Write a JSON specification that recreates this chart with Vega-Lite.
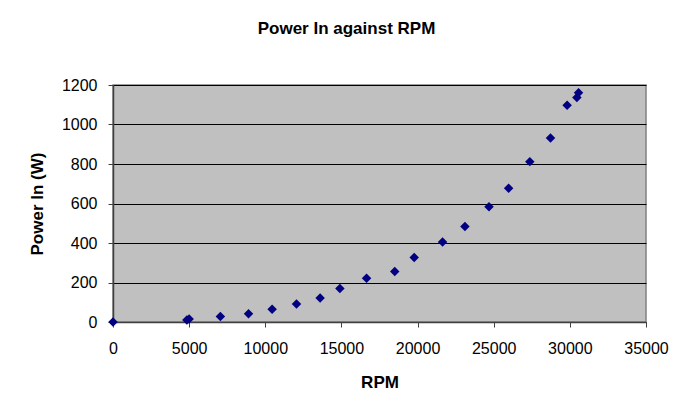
{
  "$schema": "https://vega.github.io/schema/vega-lite/v6.json",
  "width": 533,
  "height": 237,
  "autosize": {"type": "none"},
  "padding": {"left": 113, "top": 85, "right": 27, "bottom": 89},
  "background": "white",
  "title": {
    "text": "Power In against RPM",
    "font": "Liberation Sans",
    "fontSize": 17,
    "fontWeight": "bold",
    "color": "black",
    "anchor": "middle",
    "dx": -33,
    "offset": 39
  },
  "data": {
    "values": [
      {"rpm": 0, "power": 0},
      {"rpm": 4850, "power": 10},
      {"rpm": 5000, "power": 15},
      {"rpm": 7050, "power": 28},
      {"rpm": 8900, "power": 42},
      {"rpm": 10450, "power": 64},
      {"rpm": 12050, "power": 91},
      {"rpm": 13600, "power": 121},
      {"rpm": 14900, "power": 170},
      {"rpm": 16650, "power": 221},
      {"rpm": 18500, "power": 256},
      {"rpm": 19780, "power": 327},
      {"rpm": 21640, "power": 405},
      {"rpm": 23110, "power": 484},
      {"rpm": 24690, "power": 584},
      {"rpm": 25980, "power": 677},
      {"rpm": 27370, "power": 812},
      {"rpm": 28730, "power": 932},
      {"rpm": 29820, "power": 1097},
      {"rpm": 30460, "power": 1137},
      {"rpm": 30570, "power": 1161}
    ]
  },
  "mark": {"type": "point", "shape": "diamond", "filled": true, "size": 90, "color": "#000080", "opacity": 1},
  "encoding": {
    "x": {
      "field": "rpm",
      "type": "quantitative",
      "scale": {"domain": [0, 35000], "nice": false, "zero": true},
      "axis": {
        "title": "RPM",
        "values": [0, 5000, 10000, 15000, 20000, 25000, 30000, 35000],
        "format": "d",
        "grid": false,
        "tickSize": 5,
        "labelPadding": 13,
        "labelFlush": false,
        "labelOverlap": false,
        "titleY": 52,
        "titleFontSize": 17
      }
    },
    "y": {
      "field": "power",
      "type": "quantitative",
      "scale": {"domain": [0, 1200], "nice": false},
      "axis": {
        "title": "Power In (W)",
        "values": [0, 200, 400, 600, 800, 1000, 1200],
        "format": "d",
        "grid": true,
        "gridColor": "black",
        "gridOpacity": 1,
        "gridWidth": 1,
        "tickSize": 5,
        "labelPadding": 11,
        "labelFlush": false,
        "titleX": -67,
        "titleFontSize": 17
      }
    }
  },
  "config": {
    "view": {"fill": "#C0C0C0", "stroke": "#808080", "strokeWidth": 1.5},
    "axis": {
      "labelFont": "Liberation Sans",
      "labelFontSize": 16,
      "labelColor": "black",
      "titleFont": "Liberation Sans",
      "titleFontWeight": "bold",
      "titleColor": "black",
      "domainColor": "#404040",
      "domainWidth": 1.5,
      "tickColor": "#404040",
      "tickWidth": 1
    }
  }
}
